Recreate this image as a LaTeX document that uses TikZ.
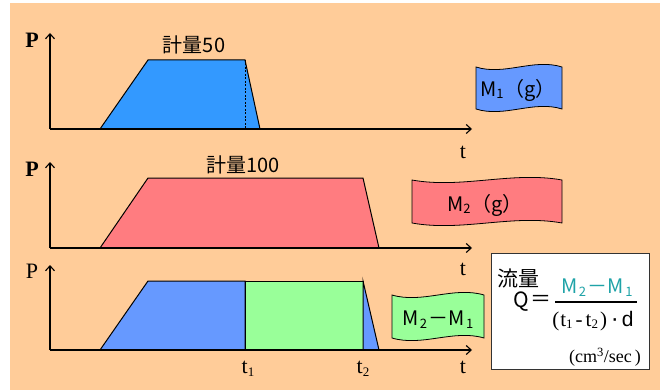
\documentclass[tikz,border=0pt]{standalone}
\usepackage{fontspec}
\setmainfont{Liberation Serif}
\newfontfamily\jp{Noto Sans CJK JP}
\newfontfamily\lsans{Liberation Sans}
\usetikzlibrary{arrows.meta}
\definecolor{peach}{HTML}{FFCC99}
\definecolor{blueA}{HTML}{3399FF}
\definecolor{blueB}{HTML}{6699FF}
\definecolor{pinkA}{HTML}{FF7C80}
\definecolor{greenA}{HTML}{99FF99}
\definecolor{tealA}{HTML}{1FA3A8}
\newcommand\lowsub[1]{\raisebox{-0.25ex}{\fontsize{13}{13}\selectfont #1}}
\newcommand\flagshape[5]{% x0 y0 x1 y1 fill
  \filldraw[flagline,fill=#5]
    (#1,#2) .. controls ({#1+0.33*(#3-#1)},{#2+9}) and ({#1+0.67*(#3-#1)},{#2-9}) .. (#3,#2)
    -- (#3,#4)
    .. controls ({#1+0.67*(#3-#1)},{#4-9}) and ({#1+0.33*(#3-#1)},{#4+9}) .. (#1,#4) -- cycle;}
\tikzset{
  axisline/.style={line width=1.1pt,-{Straight Barb[length=5pt,width=9pt]}},
  shapeline/.style={draw=black,line width=1pt},
  flagline/.style={draw=black,line width=0.8pt},
  serifl/.style={font=\fontsize{22}{24}\selectfont,inner sep=0pt},
  jplabel/.style={font=\jp\fontsize{20}{22}\selectfont,inner sep=0pt},
  flagtext/.style={font=\jp\fontsize{20}{22}\selectfont,inner sep=0pt},
}
\begin{document}
\begin{tikzpicture}[x=1pt,y=-1pt]
\useasboundingbox (0,0) rectangle (660,390);
\fill[white] (0,0) rectangle (660,390);
\fill[peach] (10,3) rectangle (660,390);

% panel 1
\filldraw[shapeline,fill=blueA] (100,129) -- (148,60) -- (245,60) -- (260,129) -- cycle;
\draw[black,line width=0.7pt,dash pattern=on 2pt off 1.5pt] (245,60) -- (245,129);
\coordinate (o1) at (50,129);
\coordinate (y1) at (50,33);
\coordinate (x1) at (472,129);
\draw[axisline] (o1) -- (y1);
\draw[axisline] (o1) -- (x1);
\node[serifl] (p1) at (32,40) {\bfseries P};
\node[serifl] (t1lab) at (463,152) {t};
\node[jplabel] (k50) at (194,45) {計量50};
\flagshape{476}{67}{562}{109}{blueB}
\node[flagtext] (m1) at (518,90) {M\lowsub{1}\kern1pt（g）};

% panel 2
\filldraw[shapeline,fill=pinkA] (100,248) -- (148,178) -- (363,178) -- (379,248) -- cycle;
\coordinate (o2) at (50,248);
\coordinate (y2) at (50,162);
\coordinate (x2) at (472,248);
\draw[axisline] (o2) -- (y2);
\draw[axisline] (o2) -- (x2);
\node[serifl] (p2) at (32,169) {\bfseries P};
\node[serifl] (t2lab) at (463,269) {t};
\node[jplabel] (k100) at (243,165) {計量100};
\flagshape{412}{180}{562}{223}{pinkA}
\node[flagtext] (m2) at (485,205) {M\lowsub{2}\kern1pt（g）};

% panel 3
\filldraw[shapeline,fill=blueB] (100,350) -- (148,281) -- (245,281) -- (245,350) -- cycle;
\filldraw[shapeline,fill=greenA] (245,281) -- (363,281) -- (363,350) -- (245,350) -- cycle;
\filldraw[shapeline,fill=blueB] (363,281) -- (379,350) -- (363,350) -- cycle;
\coordinate (o3) at (50,350);
\coordinate (y3) at (50,265);
\coordinate (x3) at (472,350);
\draw[axisline] (o3) -- (y3);
\draw[axisline] (o3) -- (x3);
\node[serifl] (p3) at (32,271) {P};
\node[serifl] (t3lab) at (463,367) {t};
\node[serifl] (tone) at (248,369) {t\lowsub{\rmfamily 1}};
\node[serifl] (ttwo) at (363,369) {t\lowsub{\rmfamily 2}};
\flagshape{392}{295}{484}{338}{greenA}
\node[flagtext] (m21) at (438,320) {M\kern1pt\lowsub{2}\kern1pt－\kern1ptM\kern1pt\lowsub{1}};

% formula box
\node[draw=black!80,line width=0.8pt,fill=white,minimum width=158pt,minimum height=116pt,inner sep=0pt] (box) at (570,311) {};
\node[jplabel,font=\jp\fontsize{21}{22}\selectfont] (ryu) at (518,278) {流量};
\node[flagtext,font=\jp\fontsize{21}{22}\selectfont] (q) at (521,302) {Q};
\node[flagtext,font=\jp\fontsize{21}{22}\selectfont] (eq) at (541,301) {＝};
\coordinate (fl) at (555,302);
\coordinate (fr) at (637,302);
\draw[line width=1.6pt] (fl) -- (fr);
\node[flagtext,text=tealA,font=\jp\fontsize{20}{22}\selectfont] (num) at (597,288) {M\kern1pt\lowsub{2}\kern1pt－\kern1ptM\kern1pt\lowsub{1}};
\node[inner sep=0pt,font=\fontsize{21}{22}\selectfont] (den) at (593,321) {(\kern1ptt\lowsub{1}\kern3pt-\kern3ptt\lowsub{2}\kern2pt)\kern4pt{\lsans\fontsize{24}{24}\selectfont ·}\kern3pt{\lsans d}};
\node[inner sep=0pt,font=\fontsize{18}{18}\selectfont] (unit) at (605,357) {(cm\textsuperscript{3}/sec\kern3pt)};
\end{tikzpicture}
\end{document}
